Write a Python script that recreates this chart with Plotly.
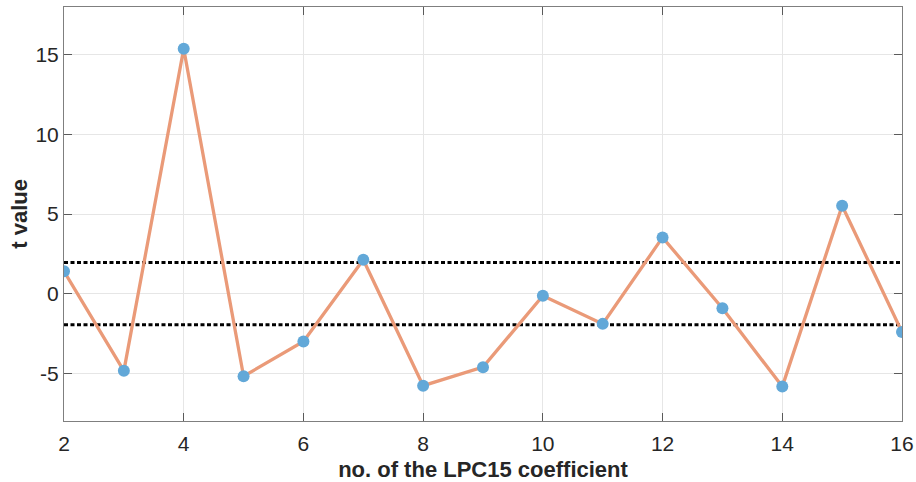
import plotly.graph_objects as go

coef_no = [2, 3, 4, 5, 6, 7, 8, 9, 10, 11, 12, 13, 14, 15, 16]
t_values = [1.40, -4.85, 15.38, -5.19, -3.01, 2.13, -5.78, -4.62, -0.13, -1.90, 3.53, -0.92, -5.84, 5.52, -2.41]
threshold = 1.96
x_ticks = [2, 4, 6, 8, 10, 12, 14, 16]
y_ticks = [-5, 0, 5, 10, 15]
y_tick_labels = ["-5", "0", "5", "10", "15"]

fig = go.Figure()
x_span = [min(coef_no), max(coef_no)]
for th in (threshold, -threshold):
    fig.add_trace(go.Scatter(x=x_span, y=[th, th], mode="lines",
                             line=dict(color="black", width=3, dash="4px,2.5px"),
                             hoverinfo="skip", showlegend=False))
fig.add_trace(go.Scatter(x=coef_no, y=t_values, mode="lines+markers",
                         line=dict(color="#EA9A78", width=3.3),
                         marker=dict(color="#62A8D8", size=12),
                         showlegend=False))

axis_common = dict(showline=True, linecolor="#7f7f7f", linewidth=1, mirror="ticks",
                   ticks="inside", ticklen=8, tickcolor="#5a5a5a", tickwidth=1,
                   showgrid=True, gridcolor="#e6e6e6", gridwidth=1, zeroline=False,
                   tickfont=dict(family="Liberation Sans, Arial", size=21, color="#262626"))

fig.update_xaxes(range=[2, 16], tickvals=x_ticks, ticklabelstandoff=4, **axis_common,
                 title=dict(text="<b>no. of the LPC15 coefficient</b>", standoff=9,
                            font=dict(family="Liberation Sans, Arial", size=22, color="#262626")))
fig.update_yaxes(range=[-8, 18], tickvals=y_ticks, ticktext=y_tick_labels, **axis_common)

fig.add_annotation(text="<b>t value</b>", xref="paper", yref="paper", x=-0.054, y=0.5,
                   xanchor="center", yanchor="middle", textangle=-90, showarrow=False,
                   font=dict(family="Liberation Sans, Arial", size=22, color="#262626"))

fig.update_layout(width=916, height=482, margin=dict(l=64, r=14, t=7, b=61, autoexpand=False),
                  plot_bgcolor="white", paper_bgcolor="white")

fig.write_html("out.html", config={"displayModeBar": False},
               post_script="document.body.style.margin='0';")
